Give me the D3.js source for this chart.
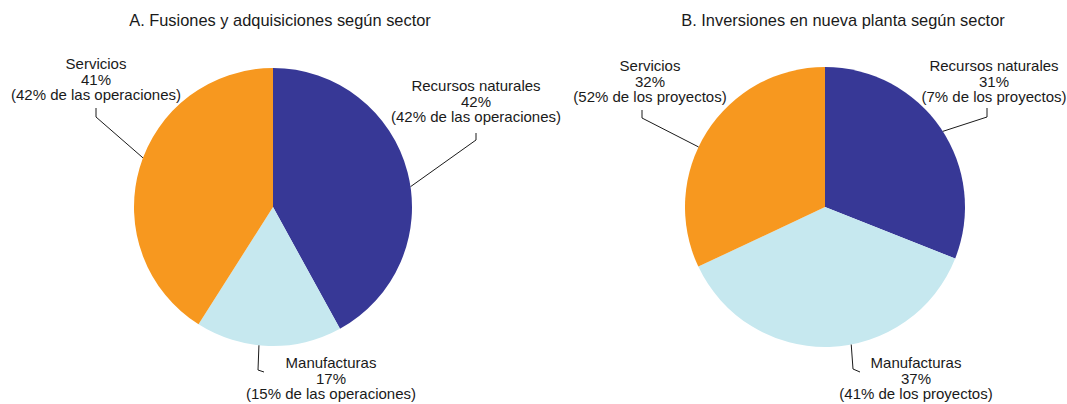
<!DOCTYPE html>
<html lang="es">
<head>
<meta charset="utf-8">
<title>Fusiones y nueva planta según sector</title>
<script src="https://d3js.org/d3.v7.min.js"></script>
<style>
body{
  margin:0;
  background:#fff;
}
svg text{
  font-family:"Liberation Sans", Arial, sans-serif;
  fill:#1a1a1a;
}
.title{
  font-size:16.4px;
  text-anchor:middle;
}
.lbl{
  font-size:15px;
  text-anchor:middle;
}
.leader{
  fill:none;
  stroke:#1a1a1a;
  stroke-width:1;
}
</style>
</head>
<body>
<div id="chart"></div>
<script>
// data
const sectors = ["Recursos naturales", "Manufacturas", "Servicios"];
const fusionesShare = [42, 17, 41];      // % del valor
const fusionesOps = [42, 15, 42];        // % de las operaciones
const plantaShare = [31, 37, 32];
const plantaProj = [7, 41, 52];          // % de los proyectos
const titles = ["A. Fusiones y adquisiciones según sector",
                "B. Inversiones en nueva planta según sector"];
const notes = ["de las operaciones", "de los proyectos"];

const colors = d3.scaleOrdinal().domain(sectors).range(["#373896", "#c6e8ef", "#f7981f"]);

var w = 1067, h = 404;

var svg = d3.select("#chart").append("svg")
  .attr("width", w).attr("height", h);

// layout per panel: pie centre, radius, title x, and label placement (relative to centre)
var panels = [
  {cx:273, cy:207, r:139, tx:280, share:fusionesShare, extra:fusionesOps,
   lab:[ {x:203, y:-116, nudge:6,  pts:[[203,-67],[203,-74]]},
         {x:58,  y:161,  nudge:4,  pts:[[-15,163],[-9,165]]},
         {x:-177,y:-138, nudge:4.5,pts:[[-177,-90],[-177,-99]]} ]},
  {cx:825, cy:207, r:140, tx:843, share:plantaShare, extra:plantaProj,
   lab:[ {x:169, y:-136, nudge:1.5,pts:[[162,-90],[162,-99]]},
         {x:91,  y:161,  nudge:-9, pts:[[28,162],[35,165]]},
         {x:-175,y:-136, nudge:-7, pts:[[-183,-89],[-183,-97]]} ]}
];

var pie = d3.pie().sort(null).value(function(d){ return d; });

panels.forEach(function(p, k){
  svg.append("text")
    .attr("class", "title")
    .attr("x", p.tx).attr("y", 26)
    .text(titles[k]);

  var g = svg.append("g")
    .attr("transform", "translate(" + p.cx + "," + p.cy + ")");

  var arc = d3.arc().innerRadius(0).outerRadius(p.r);
  var arcs = pie(p.share);

  g.selectAll("path.slice")
    .data(arcs)
    .enter()
    .append("path")
    .attr("class", "slice")
    .attr("d", arc)
    .attr("fill", function(d, i){ return colors(sectors[i]); });

  // leader lines
  g.selectAll("path.leader")
    .data(arcs)
    .enter()
    .append("path")
    .attr("class", "leader")
    .attr("d", function(d, i){
      var L = p.lab[i];
      var a = (d.startAngle + d.endAngle) / 2 + L.nudge * Math.PI / 180;
      var pts = [[p.r * Math.sin(a), -p.r * Math.cos(a)]].concat(L.pts);
      return d3.line()(pts);
    });

  // labels
  var lab = g.selectAll("text.lbl")
    .data(arcs)
    .enter()
    .append("text")
    .attr("class", "lbl")
    .attr("transform", function(d, i){
      return "translate(" + p.lab[i].x + "," + p.lab[i].y + ")";
    });

  lab.append("tspan").attr("x", 0).attr("dy", 0)
    .text(function(d, i){ return sectors[i]; });
  lab.append("tspan").attr("x", 0).attr("dy", 15.5)
    .text(function(d){ return d.data + "%"; });
  lab.append("tspan").attr("x", 0).attr("dy", 15.5)
    .text(function(d, i){ return "(" + p.extra[i] + "% " + notes[k] + ")"; });
});
</script>
</body>
</html>
